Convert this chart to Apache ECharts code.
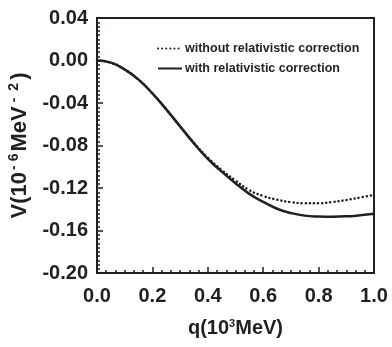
<!DOCTYPE html>
<html><head><meta charset="utf-8">
<script src="https://cdn.jsdelivr.net/npm/echarts@6/dist/echarts.min.js"></script>
<style>html,body{margin:0;padding:0;background:#fff}#c{width:392px;height:347px}</style>
</head><body><div id="c"></div>
<script>
var qValues = [0, 0.05, 0.1, 0.15, 0.2, 0.25, 0.3, 0.35, 0.4, 0.45, 0.5, 0.55, 0.6, 0.65, 0.7, 0.75, 0.8, 0.85, 0.9, 0.95, 1.0];
var withoutCorr = [0, -0.002, -0.0085, -0.018, -0.031, -0.046, -0.062, -0.0775, -0.0915, -0.103, -0.113, -0.122, -0.1275, -0.131, -0.1333, -0.1343, -0.1343, -0.1332, -0.1313, -0.129, -0.1265];
var withCorr = [0, -0.002, -0.0085, -0.018, -0.031, -0.046, -0.062, -0.078, -0.0925, -0.1045, -0.1155, -0.1255, -0.133, -0.1395, -0.1435, -0.146, -0.1468, -0.147, -0.1467, -0.1457, -0.1443];
var seriesNames = ['without relativistic correction', 'with relativistic correction'];

function pairs(xs, ys) { return xs.map(function (x, i) { return [x, ys[i]]; }); }

var chart = echarts.init(document.getElementById('c'));
var ink = '#231f20';
var font = 'Liberation Sans, Arial, sans-serif';
var sup = { fontFamily: font, fontWeight: 'bold', fontSize: 14, color: ink, verticalAlign: 'top', padding: [0, 2, 12, 2] };
chart.setOption({
  animation: false,
  backgroundColor: '#fff',
  grid: { left: 97, right: 18, top: 18, bottom: 74, show: true, borderColor: ink, borderWidth: 2, backgroundColor: 'transparent', outerBoundsMode: 'none', containLabel: false },
  legend: {
    orient: 'vertical', left: 152, top: 37, itemGap: 7, itemWidth: 24, itemHeight: 12,
    itemStyle: { opacity: 0 },
    textStyle: { fontFamily: font, fontWeight: 'bold', fontSize: 12.5, color: ink, padding: [0, 0, 0, -2] },
    data: seriesNames
  },
  xAxis: {
    type: 'value', min: 0, max: 1, interval: 0.2,
    name: '{a|q(10}{s|3}{a|MeV)}', nameLocation: 'middle', nameGap: 45,
    nameTextStyle: { rich: {
      a: { fontFamily: font, fontWeight: 'bold', fontSize: 20, color: ink },
      s: { fontFamily: font, fontWeight: 'bold', fontSize: 11, color: ink, verticalAlign: 'top', padding: [0, 0, 10, 0] }
    } },
    axisLine: { onZero: false, lineStyle: { color: ink, width: 2 } },
    axisTick: { inside: true, length: 6, lineStyle: { color: ink, width: 1.5 } },
    minorTick: { show: true, splitNumber: 6, length: 3, lineStyle: { color: ink, width: 1.5 } },
    splitLine: { show: false },
    axisLabel: { fontFamily: font, fontWeight: 'bold', fontSize: 20, color: ink, margin: 13, formatter: function (v) { return v.toFixed(1); } }
  },
  yAxis: {
    type: 'value', min: -0.2, max: 0.04, interval: 0.04,
    name: '{a|V(10}{s|-}{s|6}{a|MeV}{t|-}{t|2}{a|)}', nameLocation: 'middle', nameGap: 64, nameRotate: 90,
    nameTextStyle: { rich: {
      a: { fontFamily: font, fontWeight: 'bold', fontSize: 22, color: ink },
      s: sup,
      t: { fontFamily: font, fontWeight: 'bold', fontSize: 14, color: ink, verticalAlign: 'top', padding: [0, 3, 12, 4] }
    } },
    axisLine: { onZero: false, lineStyle: { color: ink, width: 2 } },
    axisTick: { inside: true, length: 6, lineStyle: { color: ink, width: 1.5 } },
    minorTick: { show: true, splitNumber: 10, length: 3, lineStyle: { color: ink, width: 1.5 } },
    splitLine: { show: false },
    axisLabel: { fontFamily: font, fontWeight: 'bold', fontSize: 20, color: ink, margin: 9, formatter: function (v) { var s = v.toFixed(2); return s === '-0.00' ? '0.00' : s; } }
  },
  series: [
    { name: seriesNames[0], type: 'line', smooth: true, symbol: 'none', data: pairs(qValues, withoutCorr),
      lineStyle: { color: ink, width: 2.5, type: [0.1, 4], cap: 'round' }, itemStyle: { color: ink }, z: 3 },
    { name: seriesNames[1], type: 'line', smooth: true, symbol: 'none', data: pairs(qValues, withCorr),
      lineStyle: { color: ink, width: 2.5 }, itemStyle: { color: ink }, z: 2 }
  ]
});
</script></body></html>
